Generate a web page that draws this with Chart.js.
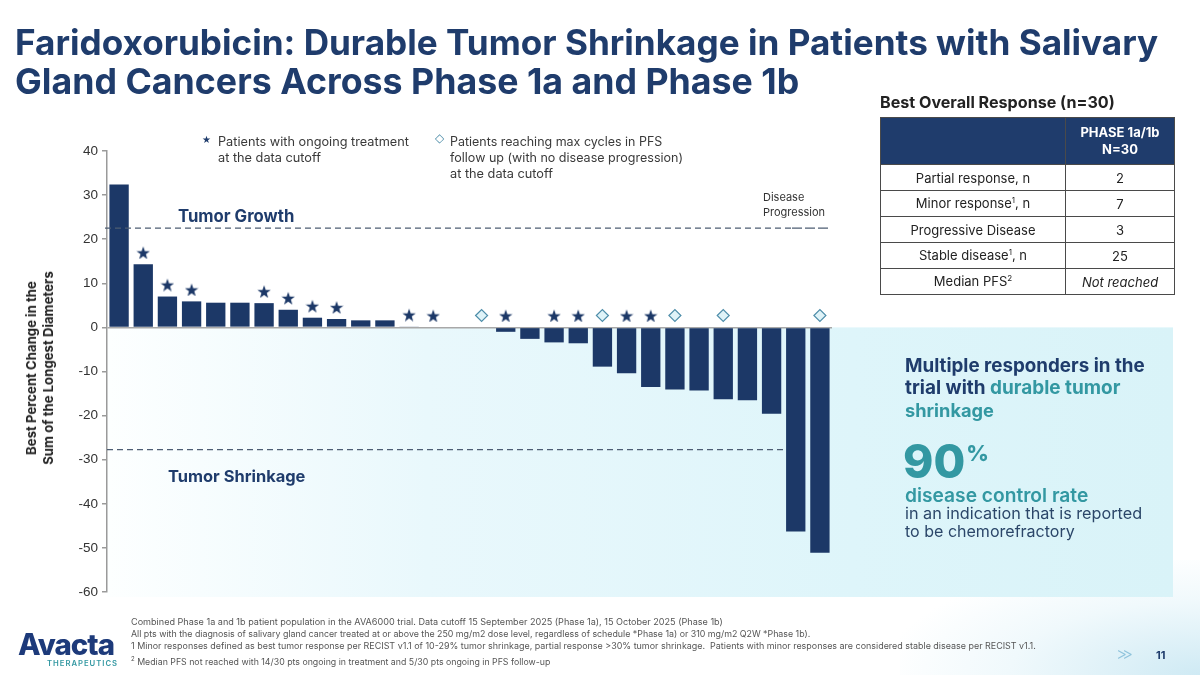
<!DOCTYPE html>
<html>
<head>
<meta charset="utf-8">
<script src="https://cdn.jsdelivr.net/npm/chart.js@4.4.1/dist/chart.umd.min.js"></script>
<style>
  body { margin: 0; width: 1200px; height: 675px; overflow: hidden; background: #fff; font-family: Inter, "Liberation Sans", sans-serif; }
  #wrap { position: relative; width: 1200px; height: 675px; }
  #chart { position: absolute; left: 0; top: 0; }
  .t { position: absolute; white-space: nowrap; }
  .navy { color: #1f3c6c; }
  .teal { color: #3398a2; }
  table { position: absolute; left: 880px; top: 117px; border-collapse: collapse; font-size: 13px; color: #222; }
  td { border: 1.5px solid #4a4a4a; text-align: center; height: 25px; padding: 0; }
  th { background: #1f3c6c; color: #fff; border: 1.5px solid #4a4a4a; height: 44px; font-size: 13px; line-height: 17px; }
  #ytitle { position: absolute; left: 40px; top: 368px; font-size: 14px; font-weight: 700; line-height: 17px; color: #222; white-space: nowrap; text-align: center; }
</style>
</head>
<body>
<div id="wrap">
  <div id="haze" style="position:absolute;left:900px;top:560px;width:300px;height:115px;background:radial-gradient(ellipse at 100% 100%, #cfeaf4 0%, rgba(230,245,250,0.6) 45%, rgba(255,255,255,0) 75%);"></div>
  <canvas id="chart" width="1200" height="675"></canvas>

  <div class="t navy" data-w="1143" style="left:15px;top:22px;line-height:40px;font-size:32px;font-weight:700;">Faridoxorubicin: Durable Tumor Shrinkage in Patients with Salivary</div>
  <div class="t navy" data-w="785" style="left:15px;top:61px;line-height:40px;font-size:32px;font-weight:700;">Gland Cancers Across Phase 1a and Phase 1b</div>

  <div class="t" data-w="235" style="left:880px;top:92px;line-height:20px;font-size:14px;font-weight:700;color:#222;">Best Overall Response (n=30)</div>
  <table>
    <tr><th style="width:182px"></th><th style="width:106px">PHASE 1a/1b<br>N=30</th></tr>
    <tr><td>Partial response, n</td><td>2</td></tr>
    <tr><td>Minor response<sup style="font-size:8px">1</sup>, n</td><td>7</td></tr>
    <tr><td>Progressive Disease</td><td>3</td></tr>
    <tr><td>Stable disease<sup style="font-size:8px">1</sup>, n</td><td>25</td></tr>
    <tr><td>Median PFS<sup style="font-size:8px">2</sup></td><td><i>Not reached</i></td></tr>
  </table>

  <div class="t navy" style="left:202px;top:133px;line-height:14px;font-size:10px;font-family:'DejaVu Sans';">★</div>
  <div class="t" data-w="191" style="left:218px;top:134px;line-height:16px;font-size:12px;color:#3a3a3a;">Patients with ongoing treatment</div>
  <div class="t" data-w="103" style="left:218px;top:150px;line-height:16px;font-size:12px;color:#3a3a3a;">at the data cutoff</div>
  <div class="t" style="left:435px;top:131px;line-height:14px;font-size:12px;color:#4c8ca8;font-family:'DejaVu Sans';">◇</div>
  <div class="t" data-w="212" style="left:450px;top:134px;line-height:16px;font-size:12px;color:#3a3a3a;">Patients reaching max cycles in PFS</div>
  <div class="t" data-w="233" style="left:450px;top:150px;line-height:16px;font-size:12px;color:#3a3a3a;">follow up (with no disease progression)</div>
  <div class="t" data-w="103" style="left:450px;top:166px;line-height:16px;font-size:12px;color:#3a3a3a;">at the data cutoff</div>

  <div class="t" style="left:763px;top:190px;line-height:15px;font-size:11px;color:#333;">Disease<br>Progression</div>

  <div class="t navy" data-w="116" style="left:178px;top:206px;line-height:20px;font-size:15px;font-weight:700;">Tumor Growth</div>
  <div class="t navy" data-w="137" style="left:168px;top:466px;line-height:20px;font-size:15px;font-weight:700;">Tumor Shrinkage</div>

  <div id="ytitle">Best Percent Change in the<br>Sum of the Longest Diameters</div>

  <div class="t navy" data-w="240" style="left:905px;top:355px;line-height:22px;font-size:17px;font-weight:700;">Multiple responders in the</div>
  <div class="t navy" data-w="215" style="left:905px;top:377px;line-height:22px;font-size:17px;font-weight:700;">trial with <span class="teal">durable tumor</span></div>
  <div class="t teal" data-w="89" style="left:905px;top:399px;line-height:22px;font-size:17px;font-weight:700;">shrinkage</div>
  <div class="t teal" style="left:903px;top:436px;line-height:50px;font-size:46px;font-weight:800;">90<span style="font-size:22px;position:relative;top:-17px;margin-left:1px;">%</span></div>
  <div class="t teal" data-w="183" style="left:905px;top:484px;line-height:22px;font-size:17px;font-weight:600;">disease control rate</div>
  <div class="t" data-w="237" style="left:905px;top:504px;line-height:18px;font-size:15px;color:#2b4669;">in an indication that is reported</div>
  <div class="t" data-w="170" style="left:905px;top:522px;line-height:18px;font-size:15px;color:#2b4669;">to be chemorefractory</div>

  <div class="t" data-w="592" style="left:131px;top:616px;line-height:12px;font-size:9px;color:#555;">Combined Phase 1a and 1b patient population in the AVA6000 trial. Data cutoff 15 September 2025 (Phase 1a), 15 October 2025 (Phase 1b)</div>
  <div class="t" data-w="681" style="left:131px;top:628px;line-height:12px;font-size:9px;color:#555;">All pts with the diagnosis of salivary gland cancer treated at or above the 250 mg/m2 dose level, regardless of schedule *Phase 1a) or 310 mg/m2 Q2W *Phase 1b).</div>
  <div class="t" data-w="906" style="left:131px;top:640px;line-height:12px;font-size:9px;color:#555;">1 Minor responses defined as best tumor response per RECIST v1.1 of 10-29% tumor shrinkage, partial response &gt;30% tumor shrinkage.&nbsp; Patients with minor responses are considered stable disease per RECIST v1.1.</div>
  <div class="t" data-w="420" style="left:131px;top:653px;line-height:12px;font-size:9px;color:#555;"><sup style="font-size:6px">2</sup> Median PFS not reached with 14/30 pts ongoing in treatment and 5/30 pts ongoing in PFS follow-up</div>

  <div class="t" data-w="97" style="left:18px;top:626px;line-height:36px;font-size:34px;font-weight:800;color:#1d3a7a;letter-spacing:-1px;">Avacta</div>
  <div class="t teal" data-w="71" style="left:47px;top:659px;line-height:10px;font-size:8px;font-weight:600;letter-spacing:1px;">THERAPEUTICS</div>

  <div class="t" style="left:1116px;top:645px;line-height:18px;font-size:17px;font-weight:300;color:#8fc3dc;letter-spacing:-5px;">&gt;&gt;</div>
  <div class="t navy" style="left:1156px;top:648px;line-height:14px;font-size:11px;font-weight:700;">11</div>
</div>

<script>
// one bar per patient, sorted as in the waterfall
const patients = ['1','2','3','4','5','6','7','8','9','10','11','12','13','14','15',
                  '16','17','18','19','20','21','22','23','24','25','26','27','28','29','30'];
const bestChange = [32.4, 14.3, 7.0, 5.9, 5.6, 5.6, 5.5, 4.0, 2.2, 1.9, 1.6, 1.6, 0.2, 0, 0,
                    0, -1.0, -2.6, -3.4, -3.6, -8.9, -10.4, -13.5, -14.1, -14.3, -16.3, -16.5, -19.6, -46.3, -51.1];
// patient indexes with markers
const ongoingTreatment = [1, 2, 3, 6, 7, 8, 9, 12, 13, 16, 18, 19, 21, 22];
const maxCyclesPFS = [15, 20, 23, 25, 29];
const yTicks = [40, 30, 20, 10, 0, -10, -20, -30, -40, -50, -60];
const growthLine = 22.5;
const shrinkLine = -27.7;

const navy = '#1c3867';
const markerGap = 2.7;

function markerData(idx) {
    return bestChange.map((v, i) => idx.includes(i) ? Math.max(v, 0) + markerGap : null);
}

function starImg(size, color) {
    let c = document.createElement('canvas');
    c.width = c.height = size;
    let g = c.getContext('2d');
    let R = size / 2, r = R * 0.4;
    g.fillStyle = color;
    g.beginPath();
    for (let k = 0; k < 10; k++) {
        let a = -Math.PI / 2 + k * Math.PI / 5;
        let rad = k % 2 ? r : R;
        g.lineTo(R + rad * Math.cos(a), R + 1 + rad * Math.sin(a));
    }
    g.closePath();
    g.fill();
    return c;
}

// fit text lines to the widths they have on the slide
document.querySelectorAll('[data-w]').forEach(el => {
    let fs = parseFloat(getComputedStyle(el).fontSize);
    el.style.fontSize = (fs * el.dataset.w / el.offsetWidth).toFixed(2) + 'px';
});
let yt = document.getElementById('ytitle');
yt.style.fontSize = (14 * 194 / yt.offsetWidth).toFixed(2) + 'px';
yt.style.transform = 'translate(-50%,-50%) rotate(-90deg)';

const backdrop = {
    id: 'backdrop',
    beforeDraw(chart) {
        let ctx = chart.ctx, a = chart.chartArea;
        let y0 = chart.scales.y.getPixelForValue(0);
        let grad = ctx.createLinearGradient(a.left, 0, 1173, 0);
        grad.addColorStop(0, '#fdffff');
        grad.addColorStop(0.3, '#e9f8fc');
        grad.addColorStop(0.7, '#def5fa');
        grad.addColorStop(1, '#d9f3f8');
        ctx.save();
        ctx.fillStyle = grad;
        ctx.fillRect(a.left, y0, 1173 - a.left, a.bottom + 5 - y0);
        ctx.restore();
    },
    afterDatasetsDraw(chart) {
        let ctx = chart.ctx, a = chart.chartArea;
        let y = chart.scales.y, x = chart.scales.x;
        let yg = y.getPixelForValue(growthLine);
        ctx.save();
        ctx.strokeStyle = '#4d5d73';
        ctx.lineWidth = 1.3;
        ctx.setLineDash([6, 4]);
        ctx.beginPath();
        ctx.moveTo(a.left - 2, yg);
        ctx.lineTo(a.right - 40, yg);
        let endX = (x.getPixelForValue(27) + x.getPixelForValue(28)) / 2 + 2;
        ctx.moveTo(a.left, y.getPixelForValue(shrinkLine));
        ctx.lineTo(endX, y.getPixelForValue(shrinkLine));
        ctx.stroke();
        // longer dashes under the progression label
        ctx.setLineDash([10, 3]);
        ctx.beginPath();
        ctx.moveTo(a.right - 40, yg);
        ctx.lineTo(a.right - 3, yg);
        ctx.stroke();
        ctx.restore();
    }
};

new Chart(document.getElementById('chart'), {
    type: 'bar',
    data: {
        labels: patients,
        datasets: [{
            type: 'line',
            data: markerData(ongoingTreatment),
            showLine: false,
            pointStyle: starImg(14, navy),
            order: 0
        }, {
            type: 'line',
            data: markerData(maxCyclesPFS),
            showLine: false,
            pointStyle: 'rectRot',
            pointRadius: 6,
            pointBackgroundColor: '#dff3f8',
            pointBorderColor: '#4f8eaa',
            pointBorderWidth: 1.2,
            order: 0
        }, {
            data: bestChange,
            backgroundColor: navy,
            categoryPercentage: 1,
            barPercentage: 0.8,
            order: 1
        }]
    },
    options: {
        responsive: false,
        animation: false,
        events: [],
        layout: { padding: { left: 0, right: 368, top: 151, bottom: 83 } },
        plugins: { legend: { display: false }, tooltip: { enabled: false } },
        scales: {
            x: { display: false },
            y: {
                min: -60,
                max: 40,
                afterBuildTicks(scale) { scale.ticks = yTicks.map(v => ({ value: v })); },
                afterFit(scale) { scale.width = 107; },
                border: { color: '#9a9a9a', width: 1.5 },
                grid: {
                    color: c => c.tick && c.tick.value === 0 ? '#a8a8a8' : 'rgba(0,0,0,0)',
                    lineWidth: 1.5,
                    tickColor: '#9a9a9a',
                    tickLength: 5
                },
                ticks: { color: '#333', padding: 4, font: { family: 'Liberation Sans', size: 13.5 } }
            }
        }
    },
    plugins: [backdrop]
});
</script>
</body>
</html>
